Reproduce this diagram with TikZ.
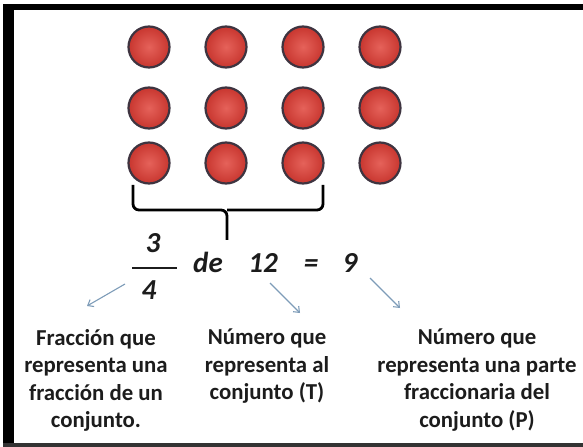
\documentclass[tikz,border=0pt]{standalone}
\usepackage{fontspec}
\setmainfont{Carlito}
\usetikzlibrary{arrows.meta}
\definecolor{ballin}{HTML}{E5625A}
\definecolor{ballout}{HTML}{C8362F}
\definecolor{ballrim}{HTML}{3E3440}
\definecolor{arrowcol}{HTML}{7E9CB8}
\definecolor{txt}{HTML}{1C1C1C}
\tikzset{
  ball/.style={circle, minimum size=41bp, inner sep=0pt, draw=ballrim, line width=2.2bp, inner color=ballin, outer color=ballout},
  bigtxt/.style={anchor=base, inner sep=0pt, text=txt, font=\fontsize{29bp}{29bp}\selectfont\bfseries\itshape},
  label/.style={anchor=north, inner sep=0pt, align=center, text=txt, font=\fontsize{22.8bp}{27.5bp}\selectfont\bfseries},
  pointer/.style={draw=arrowcol, line width=1.1bp, -{Straight Barb[length=5bp,width=8bp]}},
  brace/.style={draw=black, line width=2.8bp, rounded corners=6bp}
}
\begin{document}
\begin{tikzpicture}[x=1bp,y=-1bp]
\useasboundingbox (0,0) rectangle (583,447);
% frame
\fill[black] (3,4) rectangle (583,10);
\fill[black] (3,4) rectangle (14,447);
\fill[black!80] (3,443) rectangle (583,447);
% balls
\foreach \c/\x in {1/149,2/226,3/303,4/380}{
  \foreach \r/\y in {1/47,2/108,3/163}{
    \node[ball] (b\r\c) at (\x,\y) {};
  }
}
% brace
\draw[brace] (133,185) -- (133,210) -- (227,210) -- (227,240);
\draw[brace] (323,185) -- (323,210) -- (227,210);
\coordinate (bracetip) at (227,240);
% expression
\node[bigtxt] (num) at (153,253) {3};
\node[bigtxt] (den) at (149,299) {4};
\draw[line width=2.6bp, txt] (132,268) -- (177,268);
\node[bigtxt] (de) at (208,273) {de};
\node[bigtxt] (total) at (263,273) {12};
\node[bigtxt] (eq) at (311,273) {=};
\node[bigtxt] (part) at (350,273) {9};
% labels
\node[label] (l1) at (96,329) {Fracción que\\representa una\\fracción de un\\conjunto.};
\node[label] (l2) at (267,329) {Número que\\representa al\\conjunto (T)};
\node[label] (l3) at (477,329) {Número que\\representa una parte\\fraccionaria del\\conjunto (P)};
% pointers
\coordinate (s1) at (125,284);
\coordinate (e1) at (87,306);
\coordinate (s2) at (270,283);
\coordinate (e2) at (300,313);
\coordinate (s3) at (370,278);
\coordinate (e3) at (400,308);
\draw[pointer] (s1) -- (e1);
\draw[pointer] (s2) -- (e2);
\draw[pointer] (s3) -- (e3);
\end{tikzpicture}
\end{document}
